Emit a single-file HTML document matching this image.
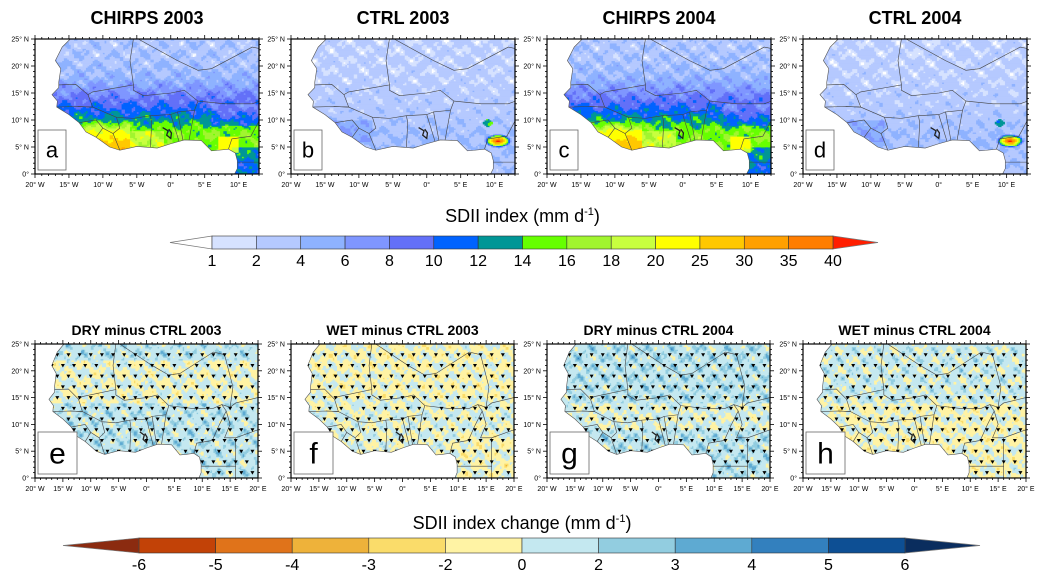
<!DOCTYPE html>
<html><head><meta charset="utf-8"><style>
html,body{margin:0;padding:0;background:#fff}
svg{display:block;font-family:"Liberation Sans",sans-serif}
</style></head><body>
<svg id="fig" width="1046" height="580" viewBox="0 0 1046 580"></svg>
<script>
// ---- colorbar data ----
const sdiiLevels = [1,2,4,6,8,10,12,14,16,18,20,25,30,35,40];
const sdiiColors = ['#ffffff','#d6e2ff','#b5c9ff','#8eb2ff','#7f96ff','#6370f8','#0063ff','#009696','#66ff00','#a1f52f','#c8ff3f','#ffff00','#ffc800','#ffa000','#ff7d00','#ff1e00'];
const diffLevels = [-6,-5,-4,-3,-2,0,2,3,4,5,6];
const diffColors = ['#8b2b10','#c24207','#e0731a','#eeb23a','#fadc6a','#fff3a4','#c4e8f0','#92cde0','#5eaad2','#3380be','#0d4f94','#0a2d5e'];
const topTitles = ['CHIRPS 2003','CTRL 2003','CHIRPS 2004','CTRL 2004'];
const botTitles = ['DRY minus CTRL 2003','WET minus CTRL 2003','DRY minus CTRL 2004','WET minus CTRL 2004'];
const topLetters = ['a','b','c','d'];
const botLetters = ['e','f','g','h'];
const latTicks = [0,5,10,15,20,25];
const topLonTicks = [-20,-15,-10,-5,0,5,10];
const botLonTicks = [-20,-15,-10,-5,0,5,10,15,20];

const NS='http://www.w3.org/2000/svg';
const svg=document.getElementById('fig');
function el(tag,attrs,parent){const e=document.createElementNS(NS,tag);for(const k in attrs)e.setAttribute(k,attrs[k]);(parent||svg).appendChild(e);return e;}

const coast=[[-14.8,25],[-16,23.5],[-17,21],[-16.2,19.5],[-16.5,17],[-16.5,16],[-17.5,14.7],[-16.7,13.5],[-16.8,12.4],[-15,11],[-13.5,9.5],[-12.5,7.8],[-11,6.8],[-9,5],[-7.5,4.4],[-5,5.1],[-2,4.8],[0,5.6],[2,6.3],[4.5,6.2],[6,4.3],[7,4.4],[8.5,4.6],[9.5,3.9],[9.8,2.5],[9.8,1],[9.4,0]];
const borders=[
[[-4.8,25],[1,21],[4,19.2],[6,19.5],[12,23.5],[14,23]],
[[-5.5,25],[-6,21],[-5.5,16.5],[-11.5,15.2],[-12.2,14.7]],
[[-16.5,16.5],[-14,16.6],[-12.2,14.7],[-11.5,12.4],[-13.7,12.5],[-16.8,12.4]],
[[-5.5,16.5],[-5.5,15.5],[-4,14.5],[0,15],[2,15.5],[4,13.5],[8,13],[12,13],[13.5,13.7],[15,13.2],[16,14],[20,15]],
[[-13.7,12.5],[-11.5,12.4],[-8,10.5],[-5.5,10.3],[-3,10.8],[0,11],[1,11.5],[3.5,11.8],[4,13.5]],
[[-13.5,9.5],[-11,10],[-10,8.5],[-8.5,7.5],[-7.5,8.5],[-8,10.5]],
[[-11,6.8],[-10,8.5]],[[-7.5,4.4],[-8.5,7.5]],
[[-3,5],[-2.8,9.5],[-3,10.8]],[[1.2,6.1],[0,11]],[[1.8,6.2],[1,11.5]],[[2.7,6.3],[3.5,11.8]],
[[8.5,4.6],[9,6.5],[11.8,7],[13,9.8],[14.3,12.5],[13.5,13.7]],
[[14.3,12.5],[15,10],[14,7.5],[16,7.5],[20,9]],[[9.8,2.2],[16,2.2],[16,0]],[[16,7.5],[16,2.2]],[[15,13.2],[15.5,17],[14,23]]
];
function noise(lon,lat,s){return Math.sin(lon*1.3+s)*Math.cos(lat*1.7+s*2)+0.5*Math.sin(lon*3.1+lat*2.3+s*1.7)+0.3*Math.cos(lon*5.3-lat*4.1+s);}
function interp(lat,pts){for(let i=0;i<pts.length-1;i++){if(lat>=pts[i][0]&&lat<=pts[i+1][0]){const t=(lat-pts[i][0])/(pts[i+1][0]-pts[i][0]);return pts[i][1]+t*(pts[i+1][1]-pts[i][1]);}}return lat<pts[0][0]?pts[0][1]:pts[pts.length-1][1];}
function colorFor(v,levels,colors){let i=0;while(i<levels.length&&v>=levels[i])i++;return colors[i];}

function chirps(lon,lat,s){let v=interp(lat,[[0,14],[5,16],[8,15.5],[10,13],[12,10.5],[14,8.5],[16,6.5],[18,4.5],[21,3.5],[25,3.2]]);
 if(lon<-6&&lat<10)v+=(10-lat)*2.6;
 if(lon>-6&&lon<-1&&lat<8)v+=3;
 if(lon>6&&lat>9&&lat<13)v-=2;
 if(lon>9&&lat<5)v-=3;
 if(lon>7&&lon<10&&lat>4&&lat<7)v+=6;
 return v+noise(lon,lat,s)*1.6;}
function ctrl(lon,lat,s){let v=interp(lat,[[0,3.6],[6,4],[9,3.5],[12,3],[18,2.4],[25,2.2]]);
 if(lon<-8&&lat<10&&lat>6)v+=2;
 const d=Math.hypot((lon-10.5)/1.6,lat-6.2);if(d<1.3)v+=(1.3-d)*30;
 const d2=Math.hypot(lon-9,lat-9.5);if(d2<0.7)v+=10;
 return v+noise(lon,lat,s)*1.1;}
function diff(lon,lat,s,b){return noise(lon,lat,s)*1.5+b(lon,lat);}
const biases=[(lo,la)=>(la>14&&la<22?0:1.3),(lo,la)=>(la>15?-0.4:0.2)+(lo>10&&la<8?-0.6:0),(lo,la)=>(la>9&&la<14?0.4:1.5),(lo,la)=>(la<14?-0.3:0.8)];

function panel(px0,py0,w,h,lonMin,lonMax,latTick,lonTick,title,letter,field,levels,colors,dots,idx,tsize,bw,bh,lsize){
 const sx=w/(lonMax-lonMin),sy=h/25;
 const X=lo=>px0+(lo-lonMin)*sx,Y=la=>py0+h-la*sy;
 const g=el('g',{},svg);
 
 
 const t=el('text',{x:px0+w/2,y:py0-(tsize>16?15:9),'text-anchor':'middle','font-size':tsize,'font-weight':'bold'},g);t.textContent=title;
 
 
 let pts=coast.map(p=>X(p[0])+','+Y(p[1]));pts.push(X(lonMax)+','+Y(0));pts.push(X(lonMax)+','+Y(25));
 const cid='clip'+letter;const cp=el('clipPath',{id:cid},g);el('polygon',{points:pts.join(' ')},cp);
 const fg=el('g',{'clip-path':'url(#'+cid+')'},g);
 const step=0.25;
 for(let la=0;la<25;la+=step){let run=null,rx=0;
  for(let lo=lonMin;lo<=lonMax+1e-9;lo+=step){const c=lo<lonMax-1e-9?colorFor(field(lo+step/2,la+step/2),levels,colors):null;
   if(c!==run){if(run)el('rect',{x:X(rx),y:Y(la+step),width:X(lo)-X(rx)+0.4,height:sy*step+0.4,fill:run},fg);run=c;rx=lo;}}}
 el('path',{d:`M${X(-1.2)},${Y(8.6)} L${X(-0.4)},${Y(8)} L${X(-0.6)},${Y(7.2)} L${X(0)},${Y(6.6)} L${X(0.1)},${Y(7.6)} L${X(-0.3)},${Y(8.3)}`,stroke:'#222',fill:'none','stroke-width':1.3},fg);
 for(const b of borders){el('polyline',{points:b.map(p=>X(p[0])+','+Y(p[1])).join(' '),fill:'none',stroke:'#444','stroke-width':0.6},fg);}
 el('polyline',{points:coast.map(p=>X(p[0])+','+Y(p[1])).join(' '),fill:'none',stroke:'#555','stroke-width':0.6},g);
 if(dots){const dg=el('g',{'clip-path':'url(#'+cid+')'},g);
  let r=0;for(let la=1;la<25;la+=2,r++){for(let lo=lonMin+1+(r%2);lo<lonMax;lo+=2){
   if(noise(lo*1.7,la*1.3,idx+5)>1.2)continue;
   const cx=X(lo),cy=Y(la);el('path',{d:`M${cx-2},${cy-1.5} L${cx+2},${cy-1.5} L${cx},${cy+2}Z`,fill:'#000'},dg);}}}
 const fr=el('rect',{x:px0,y:py0,width:w,height:h,fill:'none',stroke:'#000','stroke-width':1.2},g);
 
 
 for(let la=0;la<=25;la++){const L=la%5===0?4:2;el('line',{x1:px0-L,x2:px0,y1:Y(la),y2:Y(la),stroke:'#000','stroke-width':0.8},g);el('line',{x1:px0+w,x2:px0+w+L,y1:Y(la),y2:Y(la),stroke:'#000','stroke-width':0.8},g);}
 for(let lo=lonMin;lo<=lonMax;lo++){const L=lo%5===0?4:2;el('line',{x1:X(lo),x2:X(lo),y1:py0+h,y2:py0+h+L,stroke:'#000','stroke-width':0.8},g);el('line',{x1:X(lo),x2:X(lo),y1:py0-L,y2:py0,stroke:'#000','stroke-width':0.8},g);}
 for(const la of latTick){const tx=el('text',{x:px0-6,y:Y(la)+2.5,'text-anchor':'end','font-size':7},g);tx.textContent=la===0?'0°':la+'° N';}
 for(const lo of lonTick){const tx=el('text',{x:X(lo),y:py0+h+13,'text-anchor':'middle','font-size':7},g);tx.textContent=lo===0?'0°':Math.abs(lo)+'° '+(lo<0?'W':'E');}
 const bx=px0+3;const lb=el('rect',{x:bx,y:py0+h-bh-4,width:bw,height:bh,fill:'#fff',stroke:'#666','stroke-width':0.8},g);
 
 
 const lt=el('text',{x:bx+bw/2,y:py0+h-4-bh/2+lsize*0.35,'text-anchor':'middle','font-size':lsize},g);lt.textContent=letter;
}
const topX=[35,291,547,803];
topTitles.forEach((tt,i)=>{const even=i%2===0;
 panel(topX[i],39,224,135,-20,13,latTicks,topLonTicks,tt,topLetters[i],(lo,la)=>even?chirps(lo,la,i):ctrl(lo,la,i),sdiiLevels,sdiiColors,false,i,18,28,40,22);});
botTitles.forEach((tt,i)=>{
 panel(topX[i],344,223,134,-20,20,latTicks,botLonTicks,tt,botLetters[i],(lo,la)=>diff(lo,la,i*1.9+0.7,biases[i]),diffLevels,diffColors,true,i,14,39,42,30);});

function colorbar(x0,x1,y,h,tipL,tipR,levels,colors,title,ty,name){
 const g=el('g',{},svg);
 
 
 const n=levels.length-1,bw=(x1-x0)/n;
 el('path',{d:`M${x0},${y} L${tipL},${y+h/2} L${x0},${y+h}Z`,fill:colors[0],stroke:'#777','stroke-width':0.7},g);
 el('path',{d:`M${x1},${y} L${tipR},${y+h/2} L${x1},${y+h}Z`,fill:colors[colors.length-1],stroke:'#777','stroke-width':0.7},g);
 for(let i=0;i<n;i++){el('rect',{x:x0+i*bw,y:y,width:bw,height:h,fill:colors[i+1],stroke:'#333','stroke-width':0.6},g);}
 levels.forEach((v,i)=>{const t=el('text',{x:x0+i*bw,y:y+h+17,'text-anchor':'middle','font-size':16},g);t.textContent=v;});
 const tt=el('text',{x:(x0+x1)/2,y:ty,'text-anchor':'middle','font-size':18},g);
 tt.innerHTML=title+' (mm d<tspan dy="-7" font-size="11">-1</tspan><tspan dy="7">)</tspan>';
}
colorbar(212,833,236,13,170,878,sdiiLevels,sdiiColors,'SDII index',222,'sdii-colorbar');
colorbar(139,905,538,15,63,980,diffLevels,diffColors,'SDII index change',529,'sdii-change-colorbar');
</script>
</body></html>
